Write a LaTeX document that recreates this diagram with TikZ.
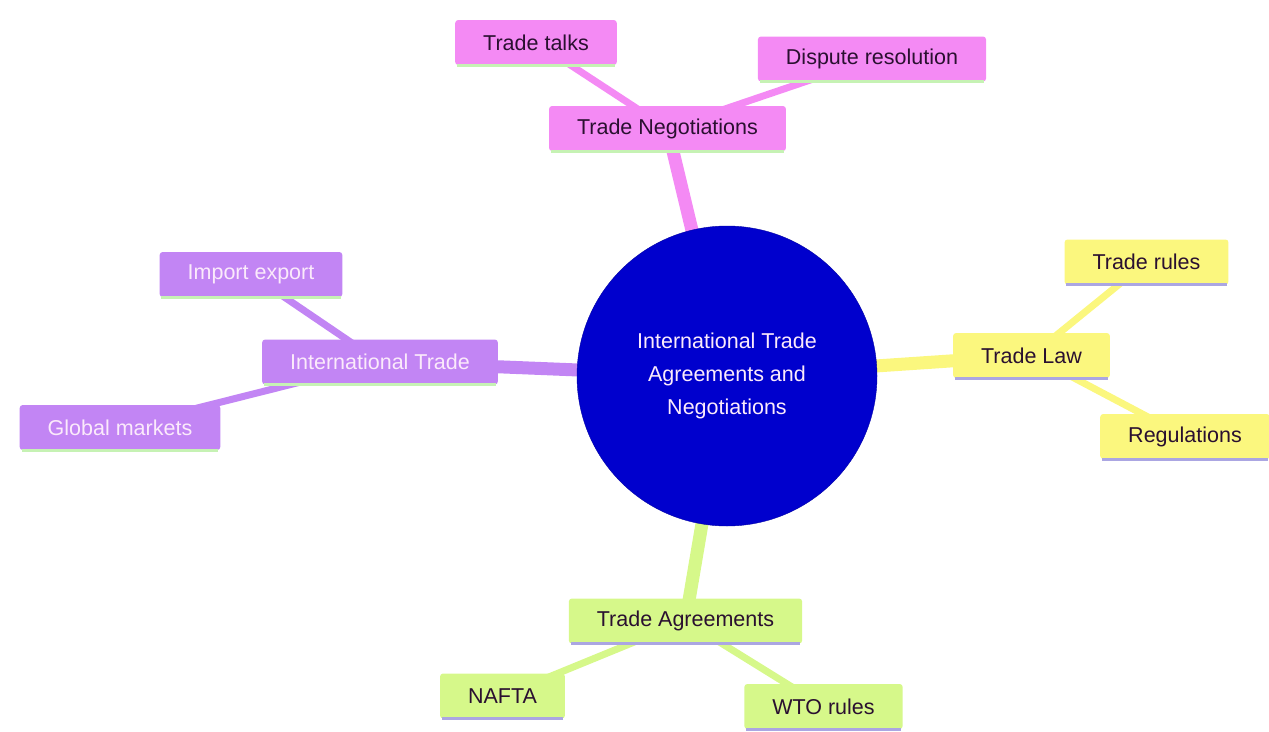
\documentclass[tikz,border=0pt]{standalone}
\usepackage{fontspec}
\setmainfont{Liberation Sans}
\usetikzlibrary{backgrounds}

\definecolor{rootblue}{HTML}{0000CD}
\definecolor{pinkfill}{HTML}{F48AF4}
\definecolor{yellowfill}{HTML}{FBF77E}
\definecolor{greenfill}{HTML}{D6F88A}
\definecolor{purplefill}{HTML}{C285F4}
\definecolor{mintline}{HTML}{C6F2B4}
\definecolor{lilacline}{HTML}{ABA6E2}
\definecolor{darktext}{HTML}{2A1030}
\definecolor{lighttext}{HTML}{FBEAFB}

\begin{document}
\begin{tikzpicture}[
    x=1pt, y=-1pt,
    box/.style={rectangle, rounded corners=3pt, inner xsep=28pt, minimum height=45pt,
        font=\fontsize{21.5}{25}\selectfont},
    rim/.style={append after command={(\tikzlastnode.south west) edge[draw=#1, line width=3pt,
        shorten <=2pt, shorten >=2pt] (\tikzlastnode.south east)}},
    pinkbox/.style={box, fill=pinkfill, text=darktext, rim=mintline},
    yellowbox/.style={box, fill=yellowfill, text=darktext, rim=lilacline},
    greenbox/.style={box, fill=greenfill, text=darktext, rim=lilacline},
    purplebox/.style={box, fill=purplefill, text=lighttext, rim=mintline},
    trunk/.style={line width=13pt},
    twig/.style={line width=7pt}
]
\useasboundingbox (0,0) rectangle (1269,731);

\node[circle, fill=rootblue, draw=rootblue!80!black, minimum size=300pt, align=center,
    text=lighttext, font=\fontsize{21.5}{33}\selectfont] (root) at (727,376)
    {International Trade\\Agreements and\\Negotiations};

% negotiations
\node[pinkbox] (negot) at (667.5,128.5) {Trade Negotiations};
\node[pinkbox] (talks) at (536,42.5) {Trade talks};
\node[pinkbox] (dispute) at (872,59) {Dispute resolution};

% law
\node[yellowbox] (law) at (1031.5,355.5) {Trade Law};
\node[yellowbox] (rules) at (1146.5,262) {Trade rules};
\node[yellowbox] (regul) at (1185,436.5) {Regulations};

% agreements
\node[greenbox] (agree) at (685.5,621) {Trade Agreements};
\node[greenbox] (nafta) at (502.5,696) {NAFTA};
\node[greenbox] (wto) at (823.5,706.5) {WTO rules};

% international trade
\node[purplebox] (intl) at (380,362) {International Trade};
\node[purplebox] (impex) at (251,274.5) {Import export};
\node[purplebox] (global) at (120,427.5) {Global markets};

\begin{scope}[on background layer]
\path[draw=pinkfill]
(root.center) edge[trunk] (negot.center)
(negot.center) edge[twig] (talks.center)
(negot.center) edge[twig] (dispute.center);
\path[draw=yellowfill]
(root.center) edge[trunk] (law.center)
(law.center) edge[twig] (rules.center)
(law.center) edge[twig] (regul.center);
\path[draw=greenfill]
(root.center) edge[trunk] (agree.center)
(agree.center) edge[twig] (nafta.center)
(agree.center) edge[twig] (wto.center);
\path[draw=purplefill]
(root.center) edge[trunk] (intl.center)
(intl.center) edge[twig] (impex.center)
(intl.center) edge[twig] (global.center);
\end{scope}

\end{tikzpicture}
\end{document}
